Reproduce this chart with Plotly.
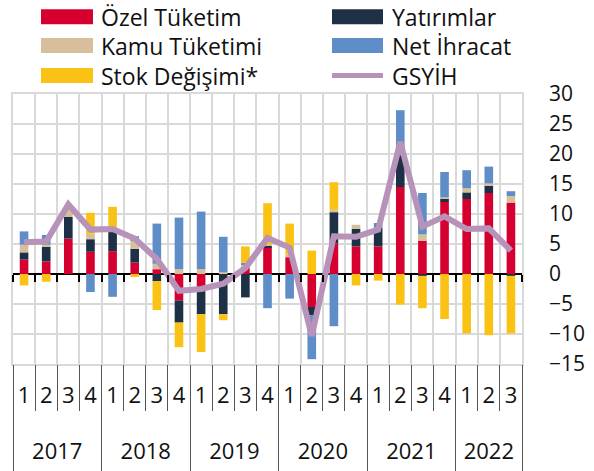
import plotly.graph_objects as go

# ---- data ----
years = ["2017"] * 4 + ["2018"] * 4 + ["2019"] * 4 + ["2020"] * 4 + ["2021"] * 4 + ["2022"] * 3
quarters = ["1", "2", "3", "4"] * 5 + ["1", "2", "3"]

ozel_tuketim = [2.4, 2.1, 5.9, 3.7, 3.8, 1.9, 0.8, -4.4, -3.0, 0.0, 1.0, 4.4,
                2.8, -5.5, 5.1, 4.6, 4.6, 14.5, 5.5, 12.0, 12.5, 13.5, 11.9]
yatirimlar = [1.2, 2.4, 3.6, 2.1, 3.2, 2.3, -1.2, -3.7, -3.7, -6.7, -3.9, 0.3,
              0.0, -1.4, 5.2, 2.9, 3.1, 5.3, -0.3, 0.6, 1.1, 1.3, -0.3]
kamu_tuketimi = [1.3, 0.4, 1.1, 0.9, 0.0, 1.3, 0.9, 0.8, 0.8, 0.3, 0.6, 0.2,
                 0.5, 0.0, 0.4, 0.7, 0.0, 0.0, 1.1, 0.2, 0.7, 0.3, 1.1]
net_ihracat = [2.2, 1.6, 0.0, -3.0, -3.8, 0.8, 6.7, 8.6, 9.6, 5.9, 0.3, -5.7,
               -4.1, -7.3, -8.7, 0.0, 0.8, 7.5, 6.9, 4.2, 3.0, 2.8, 0.8]
stok_degisimi = [-1.9, -1.3, 0.5, 3.5, 4.2, -0.5, -4.8, -4.1, -6.3, -1.0, 2.7, 6.9,
                 5.1, 3.9, 4.6, -1.9, -1.1, -5.1, -5.4, -7.5, -9.9, -10.2, -9.6]
gsyih = [5.3, 5.4, 11.6, 7.4, 7.5, 5.9, 2.5, -2.8, -2.5, -1.6, 1.0, 6.0,
         4.4, -10.3, 6.3, 6.2, 7.4, 22.0, 7.9, 9.6, 7.5, 7.6, 3.9]

y_ticks = [-15, -10, -5, 0, 5, 10, 15, 20, 25, 30]

# ---- style ----
FONT = "Open Sans"
TXT = "#111111"
DIV = "#555555"
COL = {
    "Özel Tüketim": "#D5002F",
    "Yatırımlar": "#1D3046",
    "Kamu Tüketimi": "#D7BF9B",
    "Net İhracat": "#5F8DC8",
    "Stok Değişimi*": "#FAC214",
    "GSYİH": "#B793BA",
}
W, H = 594, 471
ML, MR, MT, MB = 13, 72, 94, 107
PW, PH = W - ML - MR, H - MT - MB

def px_x(x):
    return (x - ML) / PW

def px_y(y):
    return (H - MB - y) / PH

keys = [f"{y}-{q}" for y, q in zip(years, quarters)]
n = len(keys)

# category boundaries / year groups (derived from the category lists)
bounds = [i - 0.5 for i in range(n + 1)]
year_names = []
year_idx = {}
for i, y in enumerate(years):
    if y not in year_idx:
        year_idx[y] = []
        year_names.append(y)
    year_idx[y].append(i)
year_centers = [sum(year_idx[y]) / len(year_idx[y]) for y in year_names]
year_bounds = [year_idx[y][0] - 0.5 for y in year_names] + [n - 0.5]

fig = go.Figure()
for name, vals in [("Özel Tüketim", ozel_tuketim), ("Yatırımlar", yatirimlar),
                   ("Kamu Tüketimi", kamu_tuketimi), ("Net İhracat", net_ihracat),
                   ("Stok Değişimi*", stok_degisimi)]:
    fig.add_trace(go.Bar(x=keys, y=vals, name=name, marker_color=COL[name],
                         marker_line_width=0, showlegend=False))
fig.add_trace(go.Scatter(x=keys, y=gsyih, name="GSYİH", mode="lines",
                         line=dict(color=COL["GSYİH"], width=6), showlegend=False))

# helper traces so the overlay axes are drawn
for ax in ["x2", "x3", "x4", "x5"]:
    fig.add_trace(go.Scatter(x=[None], y=[None], xaxis=ax, showlegend=False,
                             hoverinfo="skip"))

lin = dict(overlaying="x", range=[-0.5, n - 0.5], automargin=False,
           zeroline=False, showline=False)

fig.update_layout(
    width=W, height=H,
    margin=dict(l=ML, r=MR, t=MT, b=MB, pad=0, autoexpand=False),
    paper_bgcolor="white", plot_bgcolor="white",
    barmode="relative", bargap=0.61,
    font=dict(family=FONT, size=22, color=TXT),
    showlegend=False,
    xaxis=dict(
        type="category", automargin=False,
        tickvals=keys, ticktext=quarters,
        showgrid=False, ticks="",
        showline=True, linecolor="#D9D9D9", linewidth=1.5, mirror=True,
        ticklabelstandoff=11,
        tickfont=dict(size=22, family=FONT, color=TXT),
    ),
    # zero-line ticks
    xaxis2=dict(anchor="free", position=1/3, tickvals=bounds,
                ticks="outside", ticklen=7, tickcolor="black", tickwidth=1.5,
                showticklabels=False, showgrid=False, **lin),
    # vertical grid + quarter dividers
    xaxis3=dict(anchor="y", tickvals=bounds,
                showgrid=True, gridcolor="#D9D9D9", gridwidth=1.5,
                ticks="outside", ticklen=46, tickcolor=DIV, tickwidth=1,
                showticklabels=False, **lin),
    # year dividers
    xaxis4=dict(anchor="y", tickvals=year_bounds,
                ticks="outside", ticklen=MB, tickcolor=DIV, tickwidth=1,
                showticklabels=False, showgrid=False, **lin),
    # year labels
    xaxis5=dict(anchor="y", tickvals=year_centers, ticktext=year_names,
                ticks="", showgrid=False, ticklabelstandoff=72,
                tickfont=dict(size=22, family=FONT, color=TXT), **lin),
    yaxis=dict(
        side="right", range=[-15, 30], tickvals=y_ticks, automargin=False,
        showgrid=True, gridcolor="#D9D9D9", gridwidth=1.5,
        showline=True, linecolor="#D9D9D9", linewidth=1.5, mirror=True,
        zeroline=True, zerolinecolor="black", zerolinewidth=1.5,
        ticks="", ticklabelstandoff=21,
        tickfont=dict(size=21, family=FONT, color=TXT),
    ),
)

# ---- custom legend ----
legend_items = [
    ("Özel Tüketim", 41, 93, 99, 16.7, "bar"),
    ("Kamu Tüketimi", 41, 93, 99, 45.5, "bar"),
    ("Stok Değişimi*", 41, 93, 99, 75.5, "bar"),
    ("Yatırımlar", 332, 383, 390, 16.7, "bar"),
    ("Net İhracat", 332, 383, 390, 45.5, "bar"),
    ("GSYİH", 332, 383, 390, 75.5, "line"),
]
for name, x0, x1, tx, cy, kind in legend_items:
    if kind == "bar":
        fig.add_shape(type="rect", xref="paper", yref="paper",
                      x0=px_x(x0), x1=px_x(x1), y0=px_y(cy + 7.5), y1=px_y(cy - 7.5),
                      fillcolor=COL[name], line_width=0)
    else:
        fig.add_shape(type="line", xref="paper", yref="paper",
                      x0=px_x(x0), x1=px_x(x1), y0=px_y(cy), y1=px_y(cy),
                      line=dict(color=COL[name], width=5))
    fig.add_annotation(text=name, xref="paper", yref="paper", x=px_x(tx), y=px_y(cy),
                       xanchor="left", yanchor="middle", showarrow=False,
                       font=dict(family=FONT, size=23, color=TXT))

fig.write_html("out.html", config={"displayModeBar": False},
               post_script="document.body.style.margin='0';document.body.style.padding='0';")
